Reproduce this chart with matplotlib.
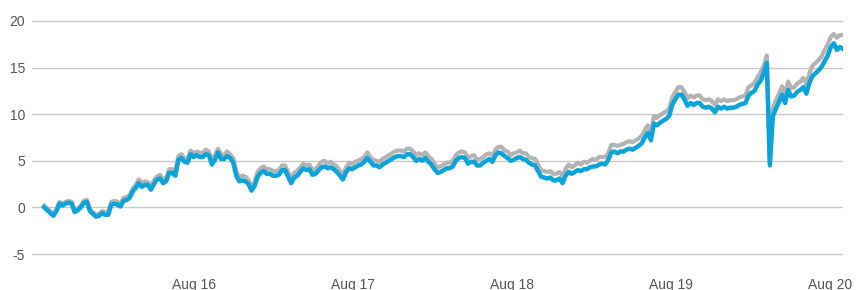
import pandas as pd
import matplotlib.pyplot as plt
from matplotlib import rcParams

# weekly series (blue = main line, gray = shadow line)
start = "2015-09-01"
blue = [
    0.0, -0.3, -0.6, -0.9, -0.4, 0.4, 0.2, 0.4, 0.5, 0.4,
    -0.5, -0.3, 0.0, 0.5, 0.6, -0.4, -0.7, -1.0, -0.9, -0.6,
    -0.8, -0.8, 0.3, 0.4, 0.3, 0.1, 0.7, 0.8, 1.0, 1.7,
    2.1, 2.6, 2.2, 2.4, 2.4, 1.9, 2.5, 3.0, 3.1, 2.6,
    2.8, 3.7, 3.7, 3.4, 5.1, 5.3, 4.9, 4.8, 5.7, 5.4,
    5.6, 5.4, 5.4, 5.7, 5.6, 4.6, 5.1, 5.9, 5.2, 5.2,
    5.5, 5.3, 4.8, 3.4, 2.8, 2.9, 2.8, 2.5, 1.8, 2.3,
    3.3, 3.7, 3.9, 3.6, 3.6, 3.4, 3.4, 3.5, 4.0, 4.0,
    3.3, 2.6, 3.2, 3.4, 3.8, 4.2, 4.0, 4.1, 3.5, 3.6,
    4.0, 4.3, 4.4, 4.2, 4.3, 4.1, 3.8, 3.4, 3.0, 3.8,
    4.2, 4.1, 4.3, 4.5, 4.6, 4.9, 5.3, 4.9, 4.5, 4.5,
    4.3, 4.6, 4.8, 5.0, 5.2, 5.4, 5.5, 5.5, 5.4, 5.7,
    5.7, 5.4, 5.0, 5.2, 5.0, 5.3, 4.9, 4.6, 4.1, 3.7,
    3.8, 4.0, 4.2, 4.2, 4.4, 5.0, 5.3, 5.4, 5.3, 4.7,
    4.9, 4.9, 4.5, 4.5, 4.8, 5.0, 5.2, 4.9, 5.6, 5.9,
    5.8, 5.5, 5.3, 5.0, 5.1, 5.3, 5.4, 5.2, 5.1, 4.8,
    4.6, 4.5, 3.9, 3.3, 3.2, 3.1, 3.2, 2.9, 2.9, 3.1,
    2.6, 3.4, 3.8, 3.6, 3.8, 4.0, 3.9, 4.1, 4.1, 4.3,
    4.4, 4.4, 4.6, 4.7, 4.6, 5.1, 5.9, 6.0, 5.8, 6.0,
    6.0, 6.2, 6.3, 6.2, 6.4, 6.6, 6.9, 7.5, 8.0, 7.2,
    9.0, 8.8, 9.1, 9.3, 9.5, 9.8, 11.0, 11.6, 12.1, 12.1,
    11.6, 10.9, 11.2, 11.0, 11.2, 11.2, 10.8, 10.7, 10.8, 10.6,
    10.2, 10.8, 10.6, 10.8, 10.6, 10.7, 10.7, 10.8, 11.0, 11.1,
    11.2, 12.0, 12.3, 12.5, 13.2, 13.6, 14.4, 15.5, 4.5, 9.8,
    10.6, 11.3, 12.1, 11.2, 12.6, 11.9, 12.0, 12.4, 12.6, 12.9,
    12.2, 13.4, 14.1, 14.4, 14.7, 15.1, 15.7, 16.3, 17.2, 17.6,
    16.9, 17.2, 17.0,
]
gray = [
    0.2, -0.1, -0.4, -0.7, -0.2, 0.6, 0.4, 0.6, 0.7, 0.6,
    -0.3, -0.1, 0.2, 0.7, 0.8, -0.2, -0.5, -0.8, -0.7, -0.4,
    -0.5, -0.5, 0.6, 0.7, 0.6, 0.4, 1.0, 1.1, 1.3, 2.0,
    2.4, 3.0, 2.6, 2.8, 2.7, 2.3, 2.9, 3.3, 3.5, 3.0,
    3.2, 4.1, 4.1, 3.8, 5.5, 5.7, 5.3, 5.2, 6.1, 5.8,
    6.0, 5.9, 5.8, 6.2, 6.0, 5.0, 5.6, 6.3, 5.7, 5.6,
    6.0, 5.7, 5.3, 3.9, 3.2, 3.4, 3.3, 2.9, 2.3, 2.7,
    3.8, 4.2, 4.4, 4.1, 4.1, 3.9, 3.9, 4.0, 4.5, 4.5,
    3.8, 3.1, 3.7, 3.9, 4.3, 4.7, 4.5, 4.6, 4.0, 4.1,
    4.5, 4.9, 5.0, 4.7, 4.9, 4.6, 4.4, 3.9, 3.6, 4.3,
    4.8, 4.6, 4.9, 5.0, 5.2, 5.4, 5.9, 5.4, 5.1, 5.0,
    4.9, 5.2, 5.4, 5.6, 5.8, 6.0, 6.1, 6.1, 6.0, 6.3,
    6.3, 6.0, 5.6, 5.8, 5.6, 5.9, 5.5, 5.2, 4.7, 4.3,
    4.4, 4.6, 4.8, 4.8, 5.0, 5.6, 5.9, 6.0, 5.9, 5.3,
    5.5, 5.6, 5.1, 5.2, 5.4, 5.7, 5.8, 5.6, 6.2, 6.5,
    6.5, 6.1, 6.0, 5.6, 5.8, 5.9, 6.1, 5.8, 5.8, 5.4,
    5.3, 5.2, 4.6, 4.0, 3.9, 3.8, 3.9, 3.6, 3.6, 3.8,
    3.4, 4.1, 4.6, 4.3, 4.5, 4.8, 4.6, 4.9, 4.8, 5.0,
    5.2, 5.1, 5.4, 5.4, 5.4, 5.8, 6.7, 6.7, 6.6, 6.7,
    6.8, 7.0, 7.1, 7.0, 7.2, 7.4, 7.7, 8.3, 8.8, 8.0,
    9.8, 9.6, 9.9, 10.1, 10.3, 10.6, 11.8, 12.4, 12.9, 12.9,
    12.4, 11.7, 12.0, 11.8, 12.0, 12.0, 11.6, 11.5, 11.6, 11.4,
    11.0, 11.6, 11.4, 11.6, 11.4, 11.5, 11.5, 11.6, 11.8, 11.9,
    12.0, 12.9, 13.1, 13.4, 14.0, 14.5, 15.2, 16.3, 5.0, 10.6,
    11.5, 12.2, 13.0, 12.1, 13.5, 12.8, 12.9, 13.3, 13.5, 13.9,
    13.2, 14.4, 15.2, 15.5, 15.8, 16.2, 16.9, 17.5, 18.3, 18.6,
    18.2, 18.5, 18.5,
]
tick_dates = ["2016-08-10", "2017-08-10", "2018-08-10", "2019-08-10", "2020-08-10"]
tick_labels = ["Aug 16", "Aug 17", "Aug 18", "Aug 19", "Aug 20"]
y_ticks = [-5, 0, 5, 10, 15, 20]

dates = pd.date_range(start, periods=len(blue), freq="7D")

rcParams.update({"font.family": ["Liberation Sans", "DejaVu Sans"], "font.size": 10,
                 "axes.unicode_minus": False})
fig = plt.figure(figsize=(8.56, 2.90), dpi=100)
# y range -5.3..20.3 -> pixel rows 256.8..18.2 (gridlines at -5 and 20 not clipped)
ax = fig.add_axes([32 / 856, 33.2 / 290, 811 / 856, 238.6 / 290])

ax.plot(dates, gray, color="#b3b3b3", lw=3.0, solid_joinstyle="round", zorder=2)
ax.plot(dates, blue, color="#0aa3da", lw=3.2, solid_joinstyle="round", zorder=3)

ax.set_ylim(-5.3, 20.3)
ax.set_xlim(pd.Timestamp(start) - pd.Timedelta(days=28), dates[-1])
ax.set_yticks(y_ticks)
ax.set_xticks(pd.to_datetime(tick_dates))
ax.set_xticklabels(tick_labels)
ax.yaxis.grid(True, color="#c8c8c8", lw=1.0, zorder=0)
ax.set_axisbelow(True)
for s in ax.spines.values():
    s.set_visible(False)
ax.tick_params(axis="both", length=0, colors="#555555", labelsize=10)
ax.tick_params(axis="y", pad=5)
ax.tick_params(axis="x", pad=15)

fig.savefig("out.png", dpi=100)
